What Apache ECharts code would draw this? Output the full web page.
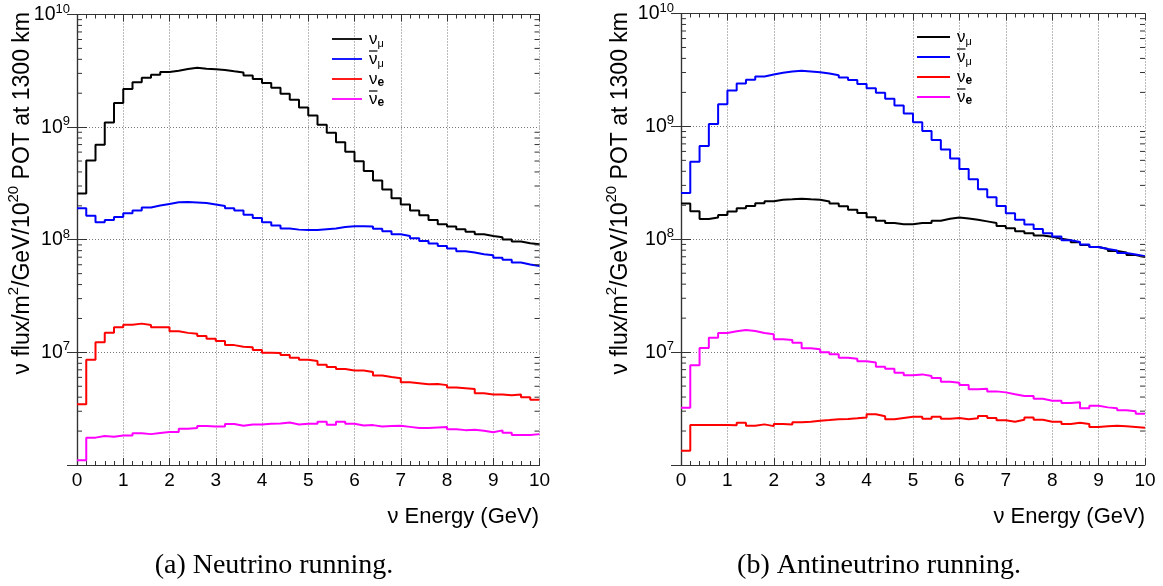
<!DOCTYPE html>
<html><head><meta charset="utf-8">
<script src="https://cdn.jsdelivr.net/npm/echarts@6/dist/echarts.min.js"></script>
<style>html,body{margin:0;padding:0;background:#fff}#c{width:1163px;height:586px}</style>
</head><body><div id="c"></div>
<script>
// ---------- data ----------
const binEdges = [0,0.2,0.4,0.6,0.8,1,1.2,1.4,1.6,1.8,2,2.2,2.4,2.6,2.8,3,3.2,3.4,3.6,3.8,4,4.2,4.4,4.6,4.8,5,5.2,5.4,5.6,5.8,6,6.2,6.4,6.6,6.8,7,7.2,7.4,7.6,7.8,8,8.2,8.4,8.6,8.8,9,9.2,9.4,9.6,9.8,10];
const xTickLabels = [0,1,2,3,4,5,6,7,8,9,10];
const yDecades = [1e6,1e7,1e8,1e9,1e10];
const yLabelExponents = [7,8,9,10];
const minorMultipliers = [2,3,4,5,6,7,8,9];
const seriesNames = ['ν_μ','ν̄_μ','ν_e','ν̄_e'];
const seriesBarred = [false,true,false,true];
const seriesColors = ['#000000','#0000ff','#ff0000','#ff00ff'];

// (a) Neutrino running
const nuNumu = [2.58e8,5.06e8,6.97e8,1.10e9,1.64e9,2.18e9,2.50e9,2.75e9,2.92e9,3.09e9,
  3.17e9,3.28e9,3.37e9,3.30e9,3.26e9,3.22e9,3.13e9,3.05e9,2.88e9,2.68e9,
  2.47e9,2.24e9,1.98e9,1.75e9,1.49e9,1.27e9,1.05e9,8.91e8,7.35e8,6.04e8,
  4.99e8,4.07e8,3.36e8,2.80e8,2.34e8,2.06e8,1.82e8,1.65e8,1.50e8,1.37e8,
  1.31e8,1.24e8,1.18e8,1.12e8,1.08e8,1.05e8,1.005e8,9.64e7,9.31e7,9.12e7];
const nuNumubar = [1.90e8,1.63e8,1.43e8,1.50e8,1.59e8,1.72e8,1.82e8,1.93e8,2.01e8,2.08e8,
  2.15e8,2.16e8,2.14e8,2.12e8,2.06e8,1.99e8,1.90e8,1.82e8,1.67e8,1.56e8,
  1.43e8,1.34e8,1.26e8,1.23e8,1.22e8,1.22e8,1.24e8,1.26e8,1.30e8,1.32e8,
  1.32e8,1.31e8,1.25e8,1.19e8,1.12e8,1.08e8,1.03e8,9.75e7,9.25e7,8.81e7,
  8.36e7,7.91e7,7.71e7,7.45e7,7.30e7,6.91e7,6.63e7,6.28e7,6.03e7,5.86e7];
const nuNue = [3.47e6,8.61e6,1.23e7,1.49e7,1.67e7,1.76e7,1.80e7,1.75e7,1.67e7,1.67e7,
  1.54e7,1.49e7,1.46e7,1.40e7,1.32e7,1.26e7,1.16e7,1.12e7,1.11e7,1.05e7,
  9.94e6,9.88e6,9.48e6,8.98e6,8.61e6,8.39e6,7.78e6,7.43e6,7.13e6,6.89e6,
  6.89e6,6.70e6,6.22e6,6.05e6,5.90e6,5.43e6,5.32e6,5.21e6,5.25e6,5.12e6,
  4.87e6,4.81e6,4.74e6,4.34e6,4.22e6,4.22e6,4.17e6,4.22e6,4.00e6,3.79e6];
const nuNuebar = [1.10e6,1.75e6,1.81e6,1.78e6,1.83e6,1.83e6,1.91e6,1.88e6,1.92e6,1.96e6,
  1.96e6,2.10e6,2.13e6,2.22e6,2.20e6,2.20e6,2.31e6,2.23e6,2.29e6,2.29e6,
  2.32e6,2.34e6,2.38e6,2.29e6,2.32e6,2.32e6,2.42e6,2.28e6,2.42e6,2.32e6,
  2.24e6,2.26e6,2.20e6,2.22e6,2.23e6,2.18e6,2.13e6,2.13e6,2.15e6,2.17e6,
  2.08e6,2.04e6,2.06e6,2.01e6,1.95e6,2.03e6,1.93e6,1.85e6,1.85e6,1.88e6];

// (b) Antineutrino running
const anuNumu = [2.07e8,1.77e8,1.51e8,1.56e8,1.64e8,1.76e8,1.88e8,1.97e8,2.08e8,2.17e8,
  2.24e8,2.26e8,2.29e8,2.26e8,2.24e8,2.16e8,2.07e8,1.96e8,1.83e8,1.71e8,
  1.57e8,1.46e8,1.39e8,1.36e8,1.36e8,1.39e8,1.39e8,1.46e8,1.52e8,1.56e8,
  1.53e8,1.49e8,1.44e8,1.39e8,1.31e8,1.25e8,1.18e8,1.13e8,1.08e8,1.05e8,
  1.01e8,9.80e7,9.40e7,8.91e7,8.55e7,8.21e7,7.87e7,7.62e7,7.26e7,6.97e7];
const anuNumubar = [2.57e8,4.87e8,6.69e8,1.05e9,1.57e9,2.08e9,2.40e9,2.59e9,2.77e9,2.88e9,
  2.99e9,3.07e9,3.11e9,3.07e9,3.01e9,2.94e9,2.84e9,2.71e9,2.57e9,2.37e9,
  2.18e9,1.99e9,1.76e9,1.53e9,1.30e9,1.09e9,9.08e8,7.56e8,6.25e8,5.18e8,
  4.19e8,3.40e8,2.77e8,2.35e8,1.97e8,1.70e8,1.49e8,1.35e8,1.23e8,1.13e8,
  1.06e8,9.80e7,9.46e7,8.98e7,8.55e7,8.21e7,7.94e7,7.57e7,7.33e7,7.08e7];
const anuNue = [1.34e6,2.26e6,2.26e6,2.26e6,2.26e6,2.25e6,2.37e6,2.23e6,2.29e6,2.21e6,
  2.31e6,2.28e6,2.39e6,2.42e6,2.47e6,2.50e6,2.54e6,2.55e6,2.59e6,2.64e6,
  2.81e6,2.70e6,2.54e6,2.61e6,2.68e6,2.68e6,2.57e6,2.68e6,2.57e6,2.61e6,
  2.54e6,2.59e6,2.72e6,2.61e6,2.49e6,2.42e6,2.52e6,2.64e6,2.52e6,2.42e6,
  2.42e6,2.31e6,2.37e6,2.31e6,2.17e6,2.20e6,2.23e6,2.20e6,2.17e6,2.14e6];
const anuNuebar = [3.21e6,7.67e6,1.09e7,1.34e7,1.48e7,1.53e7,1.57e7,1.54e7,1.48e7,1.44e7,
  1.30e7,1.28e7,1.21e7,1.08e7,1.06e7,1.00e7,9.60e6,8.91e6,8.73e6,8.32e6,
  8.11e6,7.41e6,7.11e6,6.56e6,6.25e6,6.35e6,6.14e6,5.89e6,5.46e6,5.35e6,
  5.11e6,4.68e6,4.73e6,4.49e6,4.40e6,4.23e6,4.08e6,4.08e6,3.86e6,3.71e6,
  3.71e6,3.54e6,3.59e6,3.18e6,3.35e6,3.24e6,3.18e6,3.05e6,2.99e6,2.84e6];

const yTitle = 'ν flux/m{s|2}/GeV/10{s|20} POT at 1300 km';
const xTitle = 'ν Energy (GeV)';
const captions = ['(a) Neutrino running.', '(b) Antineutrino running.'];

// ---------- helpers ----------
const SANS = '"Liberation Sans", Arial, Helvetica, sans-serif';
const SERIF = '"Liberation Serif", "Times New Roman", serif';
const FRAME = '#333';

function histData(values) {
  const d = values.map((v, i) => [binEdges[i], v]);
  d.push([binEdges[values.length], values[values.length - 1]]);
  return d;
}
const minorVals = [];
yDecades.slice(0, -1).forEach(d => minorMultipliers.forEach(m => minorVals.push([0, d * m])));

const grids = [
  { left: 77, top: 14.5, width: 462.5, height: 450.5 },
  { left: 681, top: 13.5, width: 464, height: 451.5 }
];

const xAxes = [], yAxes = [], series = [];
grids.forEach((g, gi) => {
  xAxes.push({
    type: 'value', gridIndex: gi, position: 'bottom', min: 0, max: 10, interval: 1,
    axisLine: { show: true, lineStyle: { color: FRAME, width: 1.2 } },
    axisTick: { show: true, inside: true, length: 7, lineStyle: { color: FRAME } },
    minorTick: { show: true, splitNumber: 5, length: 4, lineStyle: { color: FRAME } },
    splitLine: { show: true, lineStyle: { color: '#777', type: [1, 2], width: 1 } },
    axisLabel: { show: true, margin: 6, fontSize: 19, fontFamily: SANS, color: '#000',
      formatter: v => xTickLabels.includes(v) ? String(v) : '' }
  });
  xAxes.push({
    type: 'value', gridIndex: gi, position: 'top', min: 0, max: 10, interval: 1,
    axisLine: { show: true, lineStyle: { color: FRAME, width: 1.2 } },
    axisTick: { show: true, inside: true, length: 7, lineStyle: { color: FRAME } },
    minorTick: { show: true, splitNumber: 5, length: 4, lineStyle: { color: FRAME } },
    splitLine: { show: false }, axisLabel: { show: false }
  });
  yAxes.push({
    type: 'log', logBase: 10, gridIndex: gi, position: 'left', min: yDecades[0], max: yDecades[yDecades.length - 1],
    axisLine: { show: true, lineStyle: { color: FRAME, width: 1.2 } },
    axisTick: { show: true, inside: true, length: 10, lineStyle: { color: FRAME } },
    splitLine: { show: true, lineStyle: { color: '#777', type: [1, 2], width: 1 } },
    axisLabel: { show: true, margin: 7,
      formatter: v => {
        const e = Math.round(Math.log10(v));
        return yLabelExponents.includes(e) ? '{b|10}{s|' + e + '}' : '';
      },
      rich: {
        b: { fontSize: 19.5, fontFamily: SANS, color: '#000', lineHeight: 24 },
        s: { fontSize: 13, fontFamily: SANS, color: '#000', verticalAlign: 'top', lineHeight: 14 }
      } }
  });
  yAxes.push({
    type: 'log', logBase: 10, gridIndex: gi, position: 'right', min: yDecades[0], max: yDecades[yDecades.length - 1],
    axisLine: { show: true, lineStyle: { color: FRAME, width: 1.2 } },
    axisTick: { show: true, inside: true, length: 10, lineStyle: { color: FRAME } },
    splitLine: { show: false }, axisLabel: { show: false }
  });
});

const panels = [
  [nuNumu, nuNumubar, nuNue, nuNuebar],
  [anuNumu, anuNumubar, anuNue, anuNuebar]
];
panels.forEach((arrs, gi) => {
  arrs.forEach((arr, si) => {
    series.push({
      type: 'line', name: seriesNames[si], xAxisIndex: gi * 2, yAxisIndex: gi * 2,
      data: histData(arr), step: 'end', symbol: 'none', silent: true, animation: false,
      color: seriesColors[si], itemStyle: { color: seriesColors[si] },
      lineStyle: { color: seriesColors[si], width: 2 }, z: 3 + si
    });
  });
  series.push({
    type: 'custom', xAxisIndex: gi * 2, yAxisIndex: gi * 2, data: minorVals, silent: true,
    animation: false, clip: false, z: 10,
    encode: { x: 0, y: 1 },
    renderItem: (params, api) => {
      const v = api.value(1);
      const l = api.coord([0, v]);
      const r = api.coord([10, v]);
      const st = { stroke: FRAME, lineWidth: 1 };
      return { type: 'group', children: [
        { type: 'line', shape: { x1: l[0], y1: l[1], x2: l[0] + 5, y2: l[1] }, style: st },
        { type: 'line', shape: { x1: r[0] - 5, y1: r[1], x2: r[0], y2: r[1] }, style: st }
      ] };
    }
  });
});

// legend: "ν" + subscript; overline for antineutrinos drawn as a small graphic bar
function legendFmt(name) {
  const parts = name.split('_');
  const sub = parts[1] === 'e' ? 'se' : 'sm';
  return '{n|ν}{' + sub + '|' + parts[1] + '}';
}
const legendRich = {
  n: { fontSize: 17, fontFamily: SANS, color: '#000', lineHeight: 20 },
  sm: { fontSize: 11, fontFamily: SANS, color: '#000', verticalAlign: 'bottom', lineHeight: 14 },
  se: { fontSize: 12, fontWeight: 'bold', fontFamily: SANS, color: '#000', verticalAlign: 'bottom', lineHeight: 14 }
};
const LEG_STEP = 20;
const legendPos = [
  { left: 332, top: 29, itemWidth: 30 },
  { left: 917, top: 27, itemWidth: 33 }
];
const legends = legendPos.map(p => ({
  left: p.left, top: p.top, orient: 'vertical', data: seriesNames, selectedMode: false,
  icon: 'rect', itemWidth: p.itemWidth, itemHeight: 1.8, itemGap: 0, padding: 0,
  formatter: legendFmt, textStyle: { rich: legendRich, padding: [0, 0, 0, 2], lineHeight: LEG_STEP, height: LEG_STEP }
}));

const titleRich = { s: { fontSize: 15, fontFamily: SANS, color: '#000', verticalAlign: 'top', lineHeight: 15 } };
const graphics = [];
[{ x: 23, y: 12 }, { x: 621, y: 12 }].forEach(p => {
  graphics.push({ type: 'text', x: p.x, y: p.y, rotation: Math.PI / 2, silent: true,
    style: { text: yTitle, font: '23px ' + SANS, fill: '#000', align: 'right', verticalAlign: 'middle',
      lineHeight: 34, rich: titleRich } });
});
[{ x: 539, y: 517 }, { x: 1145, y: 517 }].forEach(p => {
  graphics.push({ type: 'text', x: p.x, y: p.y, silent: true,
    style: { text: xTitle, font: '22px ' + SANS, fill: '#000', align: 'right', verticalAlign: 'middle' } });
});
[{ x: 274, y: 566 }, { x: 879, y: 566 }].forEach((p, i) => {
  graphics.push({ type: 'text', x: p.x, y: p.y, silent: true,
    style: { text: captions[i], font: '28px ' + SERIF, fill: '#000', align: 'center', verticalAlign: 'middle' } });
});
legendPos.forEach(p => {
  seriesBarred.forEach((b, i) => {
    if (!b) return;
    const tx = p.left + p.itemWidth + 7;
    const cy = p.top + i * LEG_STEP + LEG_STEP / 2;
    graphics.push({ type: 'line', silent: true, shape: { x1: tx, y1: cy - 8, x2: tx + 8.5, y2: cy - 8 },
      style: { stroke: '#000', lineWidth: 1.2 } });
  });
});

const chart = echarts.init(document.getElementById('c'), null, { renderer: 'canvas' });
chart.setOption({
  animation: false,
  backgroundColor: '#fff',
  grid: grids,
  xAxis: xAxes,
  yAxis: yAxes,
  legend: legends,
  series: series,
  graphic: graphics
});
</script>
</body></html>
